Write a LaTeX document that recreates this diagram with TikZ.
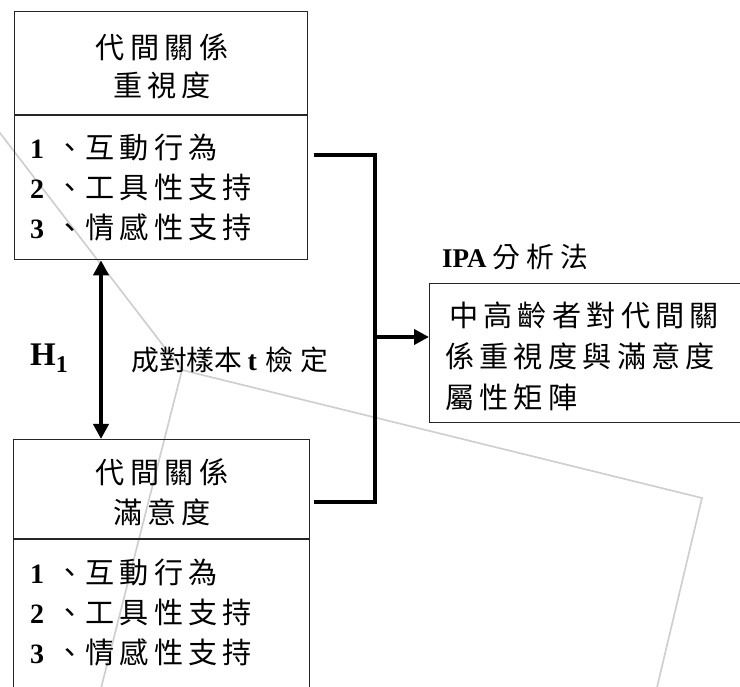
\documentclass[tikz,border=0pt]{standalone}
\usepackage{fontspec}
\setmainfont{Liberation Serif}
\newfontfamily\cjk[Scale=1.1,LetterSpace=18]{Noto Sans CJK TC}
\newfontfamily\cjkn[Scale=1.05]{Noto Sans CJK TC}
\usetikzlibrary{arrows.meta}
\begin{document}
\begin{tikzpicture}[x=1pt,y=-1pt,
  box/.style={draw=black!85, line width=1.3pt, inner sep=0pt, anchor=north west},
  divline/.style={draw=black!85, line width=1.3pt},
  txt/.style={inner sep=0pt, font=\fontsize{26.5}{40}\selectfont},
  conn/.style={line width=4.5pt, black},
  tipa/.style={-{Triangle[length=15pt,width=15pt]}},
  tipb/.style={{Triangle[length=15pt,width=15pt]}-{Triangle[length=15pt,width=15pt]}},
  wm/.style={draw=black!19, line width=1.7pt}]
\clip (0,0) rectangle (740,687);
% watermark
\coordinate (w1) at (-10,120);
\coordinate (w2) at (182,370);
\coordinate (w3) at (702,498);
\coordinate (w4) at (654,700);
\coordinate (w5) at (98,700);
\draw[wm] (w1) -- (w2) -- (w3) -- (w4);
\draw[wm] (w2) -- (w5);
% boxes
\node[box, minimum width=293pt, minimum height=248pt] (imp) at (14,11) {};
\node[box, minimum width=296pt, minimum height=280pt] (sat) at (13,439) {};
\node[box, minimum width=330pt, minimum height=139pt] (ipa) at (429,283) {};
\draw[divline] (14,115) -- (307,115);
\draw[divline] (13,539) -- (309,539);
% texts
\newcommand{\itm}[2]{{\fontsize{28}{40}\selectfont\bfseries #1}\hspace{11pt}{\cjk 、}\hspace{1pt}{\cjk #2}}
\node[txt, font=\fontsize{26.5}{38}\selectfont, align=center] (impT) at (162,66) {{\cjk 代間關係}\\{\cjk 重視度}};
\node[txt, align=left, anchor=west] (impL) at (30,188) {\itm{1}{互動行為}\\\itm{2}{工具性支持}\\\itm{3}{情感性支持}};
\node[txt, align=center] (satT) at (162,492) {{\cjk 代間關係}\\{\cjk 滿意度}};
\node[txt, align=left, anchor=west] (satL) at (30,613) {\itm{1}{互動行為}\\\itm{2}{工具性支持}\\\itm{3}{情感性支持}};
\node[txt, font=\fontsize{26.5}{41}\selectfont, align=left, anchor=west] (ipaT) at (445,356) {\hspace{4pt}{\cjk 中高齡者對代間關}\\{\cjk 係重視度與滿意度}\\{\cjk 屬性矩陣}};
\node[txt, anchor=west] (ipaL) at (442,257) {{\fontsize{27}{30}\selectfont\bfseries IPA}\hspace{6pt}{\cjkn 分\hspace{6pt}析\hspace{6pt}法}};
\node[txt, anchor=west] (h1) at (30,358) {\bfseries{\fontsize{33}{33}\selectfont H}\raisebox{-7pt}{\fontsize{24}{24}\selectfont 1}};
\node[txt, anchor=west] (tt) at (131,360) {{\cjkn 成對樣本}\hspace{5pt}{\fontsize{28}{30}\selectfont\bfseries t}\hspace{9pt}{\cjkn 檢\hspace{7pt}定}};
% connectors
\coordinate (ax) at (101,0);
\coordinate (jx) at (375,0);
\coordinate (y1) at (0,155);
\coordinate (y2) at (0,502);
\coordinate (y3) at (0,337);
\coordinate (c1) at ([xshift=6pt]imp.east);
\coordinate (c2) at ([xshift=4pt]sat.east);
\draw[conn, tipb] (imp.south -| ax) -- (sat.north -| ax);
\draw[conn] (c1 |- y1) -- (jx |- y1) -- (jx |- y2) -- (c2 |- y2);
\draw[conn, tipa] (jx |- y3) -- (ipa.west |- y3);
\end{tikzpicture}
\end{document}
